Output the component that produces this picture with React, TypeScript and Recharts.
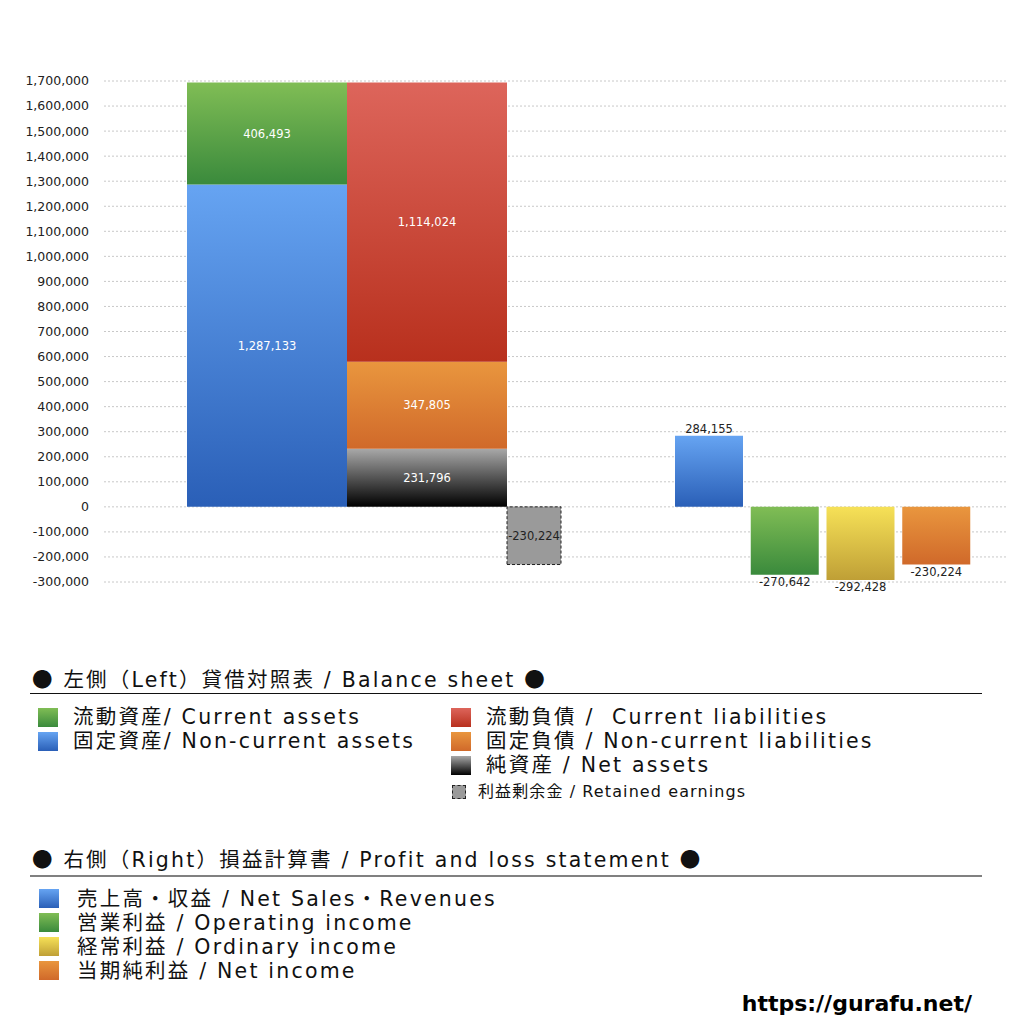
import React from 'react'
import { BarChart, Bar, XAxis, YAxis, CartesianGrid, LabelList, Cell } from 'recharts'

// Balance sheet (left side)
const bsCategories = ['資産', '負債・純資産']
const fixedAssets = [1287133, null]
const currentAssets = [406493, null]
const netAssets = [null, 231796]
const nonCurrentLiabilities = [null, 347805]
const currentLiabilities = [null, 1114024]

// Retained earnings
const reCategories = ['利益剰余金']
const retainedEarnings = [-230224]

// Profit and loss (right side)
const plCategories = ['売上高・収益', '営業利益', '経常利益', '当期純利益']
const plValues = [284155, -270642, -292428, -230224]

const yTicks = [
  -300000, -200000, -100000, 0, 100000, 200000, 300000, 400000, 500000,
  600000, 700000, 800000, 900000, 1000000, 1100000, 1200000, 1300000,
  1400000, 1500000, 1600000, 1700000,
]

const FONT = '"DejaVu Sans", "Noto Sans CJK JP", sans-serif'
const CJK = '"Noto Sans CJK JP", sans-serif'
const CHART_W = 1024
const CHART_H = 600
const MARGIN = { top: 81, right: 18, bottom: 18, left: 0 }
const MARGIN_NO_AXIS = { top: 81, right: 18, bottom: 18, left: 104 }
const DOMAIN: [number, number] = [-300000, 1700000]

const grads: Record<string, [string, string]> = {
  green: ['#80bd55', '#3a8a3c'],
  blue: ['#66a4f2', '#2a5fb7'],
  red: ['#dd655b', '#b8301d'],
  orange: ['#e9963e', '#d0692a'],
  black: ['#a8a8a8', '#000000'],
  yellow: ['#f6e157', '#bf9f36'],
}

const fmt = (v: any) => (v === null || v === undefined || v === 0 ? '' : Number(v).toLocaleString('en-US'))

function Defs() {
  return (
    <defs>
      {Object.entries(grads).map(([k, [a, b]]) => (
        <linearGradient key={k} id={`g-${k}`} x1="0" y1="0" x2="0" y2="1">
          <stop offset="0%" stopColor={a} />
          <stop offset="100%" stopColor={b} />
        </linearGradient>
      ))}
    </defs>
  )
}

const css = (k: string) => `linear-gradient(to bottom, ${grads[k][0]}, ${grads[k][1]})`

const Dot = () => <span style={{ fontFamily: CJK }}>●</span>

export default function App() {
  const bsData = bsCategories.map((name, i) => ({
    name,
    fixedAssets: fixedAssets[i],
    currentAssets: currentAssets[i],
    netAssets: netAssets[i],
    nonCurrentLiabilities: nonCurrentLiabilities[i],
    currentLiabilities: currentLiabilities[i],
  }))
  const reData = reCategories.map((name, i) => ({ name, value: retainedEarnings[i] }))
  const plData = plCategories.map((name, i) => ({ name, value: plValues[i] }))
  const plColors = ['blue', 'green', 'yellow', 'orange']

  const whiteLabel = { fill: '#ffffff', fontSize: 11.5, fontFamily: FONT }
  const darkLabel = { fill: '#222222', fontSize: 11.5, fontFamily: FONT }

  const layer: React.CSSProperties = { position: 'absolute', left: 0, top: 0 }
  const abs = (top: number, left: number, extra: React.CSSProperties = {}): React.CSSProperties => ({
    position: 'absolute', top, left, whiteSpace: 'nowrap', ...extra,
  })
  const legendText: React.CSSProperties = {
    fontSize: 20.5, lineHeight: '22px', letterSpacing: 2.2, color: '#111', fontFamily: FONT,
  }
  const square = (top: number, left: number, k: string): React.CSSProperties => ({
    position: 'absolute', top, left, width: 20, height: 19, background: css(k),
  })

  return (
    <div style={{ position: 'relative', width: 1024, height: 1024, margin: -8, background: '#fff', fontFamily: FONT }}>
      {/* balance sheet + axis + grid */}
      <div style={layer}>
        <BarChart width={CHART_W} height={CHART_H} data={bsData} margin={MARGIN} barCategoryGap={0} barGap={0}>
          <Defs />
          <CartesianGrid vertical={false} stroke="#c8c8c8" strokeDasharray="2 2" />
          <XAxis dataKey="name" hide padding={{ left: 83, right: 499 }} />
          <YAxis
            width={104}
            domain={DOMAIN}
            ticks={yTicks}
            interval={0}
            axisLine={false}
            tickLine={false}
            tickMargin={9}
            tickFormatter={(v: number) => v.toLocaleString('en-US')}
            tick={{ fill: '#222', fontSize: 12.5, fontFamily: FONT }}
          />
          <Bar dataKey="fixedAssets" stackId="s" fill="url(#g-blue)" isAnimationActive={false}>
            <LabelList dataKey="fixedAssets" position="center" formatter={fmt} style={whiteLabel} />
          </Bar>
          <Bar dataKey="currentAssets" stackId="s" fill="url(#g-green)" isAnimationActive={false}>
            <LabelList dataKey="currentAssets" position="center" formatter={fmt} style={whiteLabel} />
          </Bar>
          <Bar dataKey="netAssets" stackId="s" fill="url(#g-black)" isAnimationActive={false}>
            <LabelList dataKey="netAssets" position="center" formatter={fmt} style={whiteLabel} />
          </Bar>
          <Bar dataKey="nonCurrentLiabilities" stackId="s" fill="url(#g-orange)" isAnimationActive={false}>
            <LabelList dataKey="nonCurrentLiabilities" position="center" formatter={fmt} style={whiteLabel} />
          </Bar>
          <Bar dataKey="currentLiabilities" stackId="s" fill="url(#g-red)" isAnimationActive={false}>
            <LabelList dataKey="currentLiabilities" position="center" formatter={fmt} style={whiteLabel} />
          </Bar>
        </BarChart>
      </div>

      {/* retained earnings */}
      <div style={layer}>
        <BarChart width={CHART_W} height={CHART_H} data={reData} margin={MARGIN_NO_AXIS} barCategoryGap={0}>
          <XAxis dataKey="name" hide padding={{ left: 403, right: 445 }} />
          <YAxis hide domain={DOMAIN} />
          <Bar dataKey="value" fill="#9a9a9a" stroke="#222" strokeWidth={1} strokeDasharray="3 2" isAnimationActive={false}>
            <LabelList dataKey="value" position="center" formatter={fmt} style={darkLabel} />
          </Bar>
        </BarChart>
      </div>

      {/* profit and loss */}
      <div style={layer}>
        <BarChart width={CHART_W} height={CHART_H} data={plData} margin={MARGIN_NO_AXIS}>
          <Defs />
          <XAxis dataKey="name" hide padding={{ left: 567, right: 32 }} />
          <YAxis hide domain={DOMAIN} />
          <Bar dataKey="value" barSize={68} isAnimationActive={false}>
            {plData.map((d, i) => (
              <Cell key={d.name} fill={`url(#g-${plColors[i]})`} />
            ))}
            <LabelList dataKey="value" position="top" offset={3} formatter={fmt} style={darkLabel} />
          </Bar>
        </BarChart>
      </div>

      {/* legend: balance sheet */}
      <div style={abs(665, 32, { ...legendText, lineHeight: '26px' })}>
        <Dot /> 左側（Left）貸借対照表 / Balance sheet <Dot />
      </div>
      <div style={abs(693, 30, { width: 952, height: 1, background: '#111' })} />

      <div style={square(708, 38, 'green')} />
      <div style={abs(706, 73, legendText)}>流動資産/ Current assets</div>
      <div style={square(732, 38, 'blue')} />
      <div style={abs(730, 73, legendText)}>固定資産/ Non-current assets</div>

      <div style={square(708, 451, 'red')} />
      <div style={abs(706, 486, legendText)}>流動負債 /&nbsp; Current liabilities</div>
      <div style={square(732, 451, 'orange')} />
      <div style={abs(730, 486, legendText)}>固定負債 / Non-current liabilities</div>
      <div style={square(756, 451, 'black')} />
      <div style={abs(754, 486, legendText)}>純資産 / Net assets</div>
      <div style={abs(785, 452, { width: 12, height: 12, background: '#9a9a9a', border: '1px dashed #222' })} />
      <div style={abs(782, 478, { ...legendText, fontSize: 16, letterSpacing: 1.1, lineHeight: '20px' })}>利益剰余金 / Retained earnings</div>

      {/* legend: profit and loss */}
      <div style={abs(845, 32, { ...legendText, lineHeight: '26px' })}>
        <Dot /> 右側（Right）損益計算書 / Profit and loss statement <Dot />
      </div>
      <div style={abs(875, 30, { width: 952, height: 2, background: '#808080' })} />

      <div style={square(889, 39, 'blue')} />
      <div style={abs(888, 77, legendText)}>売上高・収益 / Net Sales・Revenues</div>
      <div style={square(913, 39, 'green')} />
      <div style={abs(912, 77, legendText)}>営業利益 / Operating income</div>
      <div style={square(937, 39, 'yellow')} />
      <div style={abs(936, 77, legendText)}>経常利益 / Ordinary income</div>
      <div style={square(961, 39, 'orange')} />
      <div style={abs(960, 77, legendText)}>当期純利益 / Net income</div>

      <div style={{ position: 'absolute', top: 990, right: 52, fontSize: 22, lineHeight: '28px', fontWeight: 700, color: '#000', fontFamily: FONT }}>
        https://gurafu.net/
      </div>
    </div>
  )
}
